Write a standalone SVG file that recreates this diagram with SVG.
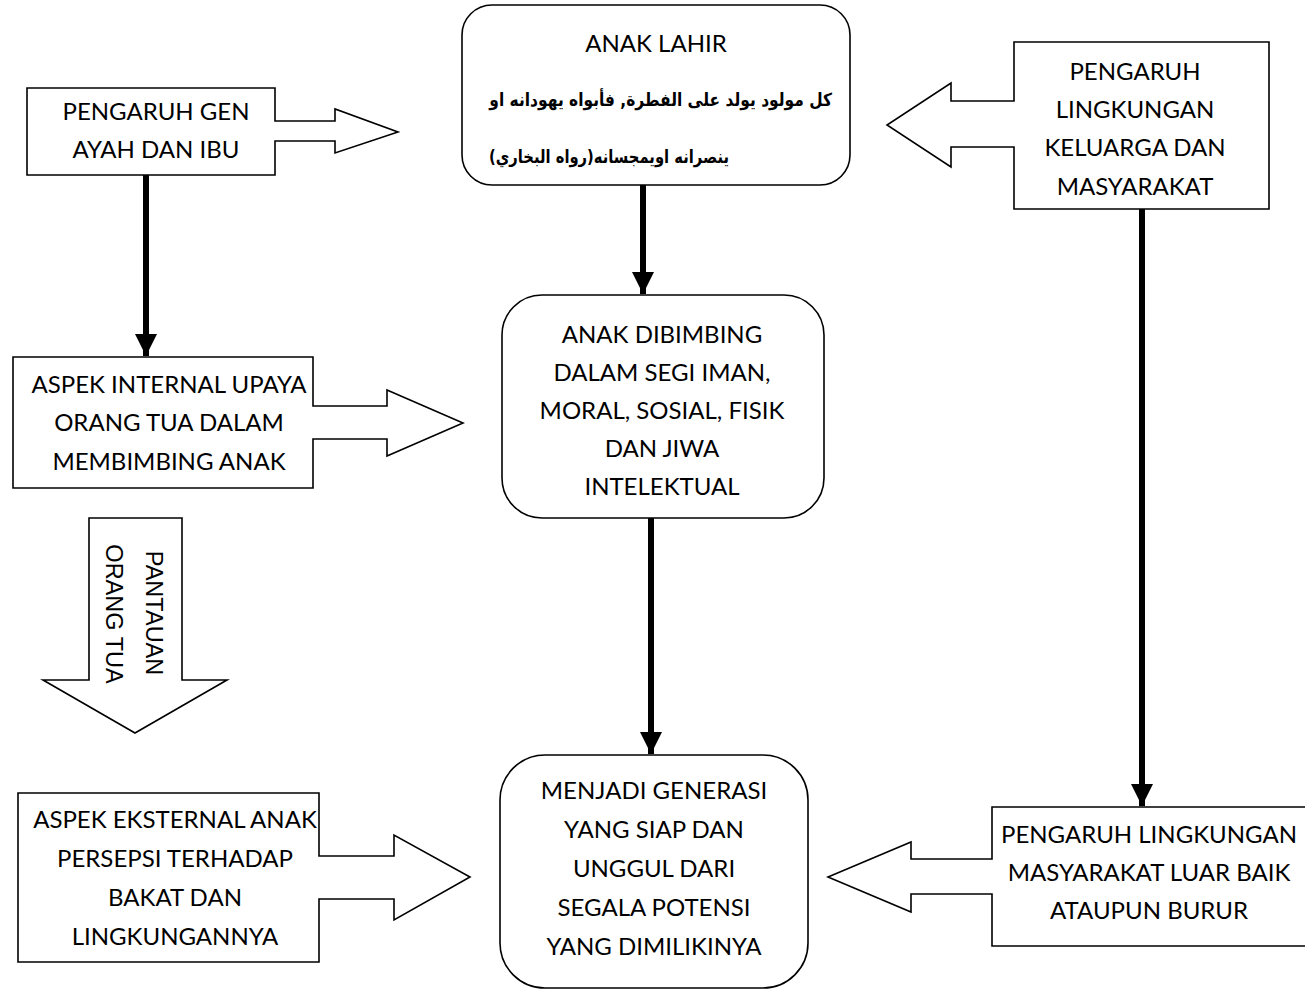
<svg xmlns="http://www.w3.org/2000/svg" width="1305" height="992" viewBox="0 0 1305 992">
<style>
.box{fill:#fff;stroke:#000;stroke-width:1.6;stroke-linejoin:miter}
.t{font-family:Lato,"Liberation Sans",sans-serif;font-size:24px;fill:#000;text-anchor:middle}
.v{font-family:"Liberation Sans",Arial,sans-serif;font-size:23.5px;fill:#000;text-anchor:middle}
.ar{font-family:"DejaVu Sans",sans-serif;font-size:18px;font-weight:bold;fill:#000}
.conn{stroke:#000;stroke-width:6;fill:none}
</style>
<defs>
<marker id="ah" markerUnits="userSpaceOnUse" markerWidth="24" markerHeight="24" viewBox="0 0 24 24" refX="22" refY="12" orient="auto">
<path d="M0,1 L22,12 L0,23 Z" fill="#000"/>
</marker>
</defs>
<rect width="1305" height="992" fill="#fff"/>

<g id="connectors">
<line class="conn" x1="146" y1="175" x2="146" y2="356" marker-end="url(#ah)"/>
<line class="conn" x1="643" y1="185" x2="643" y2="294" marker-end="url(#ah)"/>
<line class="conn" x1="651" y1="518" x2="651" y2="754" marker-end="url(#ah)"/>
<line class="conn" x1="1142" y1="209" x2="1142" y2="806" marker-end="url(#ah)"/>
</g>

<g id="anak-lahir">
<rect class="box" x="462" y="5" width="388" height="180" rx="30" ry="30"/>
<text class="t" x="656" y="52">ANAK LAHIR</text>
<text class="ar" transform="translate(832,106) scale(0.86,1)" direction="rtl" unicode-bidi="embed">كل مولود يولد على الفطرة, فأبواه يهودانه او</text>
<text class="ar" transform="translate(729,163) scale(0.82,1)" direction="rtl" unicode-bidi="embed">ينصرانه اويمجسانه(رواه البخاري)</text>
</g>

<g id="pengaruh-gen">
<path class="box" d="M27,88 H275 V121 H335 V109 L398,132 L335,153 V141 H275 V175 H27 Z"/>
<text class="t" x="156" y="120">PENGARUH GEN</text>
<text class="t" x="156" y="158">AYAH DAN IBU</text>
</g>

<g id="pengaruh-keluarga">
<path class="box" d="M1014,42 H1269 V209 H1014 V147 H951 V167 L887,125 L951,83 V101 H1014 Z"/>
<text class="t" x="1135" y="80">PENGARUH</text>
<text class="t" x="1135" y="118">LINGKUNGAN</text>
<text class="t" x="1135" y="156">KELUARGA DAN</text>
<text class="t" x="1135" y="195">MASYARAKAT</text>
</g>

<g id="aspek-internal">
<path class="box" d="M13,357 H313 V406 H387 V390 L463,423 L387,456 V439 H313 V488 H13 Z"/>
<text class="t" x="169" y="393">ASPEK INTERNAL UPAYA</text>
<text class="t" x="169" y="431">ORANG TUA DALAM</text>
<text class="t" x="169" y="470">MEMBIMBING ANAK</text>
</g>

<g id="anak-dibimbing">
<rect class="box" x="502" y="295" width="322" height="223" rx="40" ry="40"/>
<text class="t" x="662" y="343">ANAK DIBIMBING</text>
<text class="t" x="662" y="381">DALAM SEGI IMAN,</text>
<text class="t" x="662" y="419">MORAL, SOSIAL, FISIK</text>
<text class="t" x="662" y="457">DAN JIWA</text>
<text class="t" x="662" y="495">INTELEKTUAL</text>
</g>

<g id="pantauan">
<path class="box" d="M89,518 H182 V680 H227 L135,733 L43,680 H89 Z"/>
<text class="v" transform="translate(146,613) rotate(90)">PANTAUAN</text>
<text class="v" transform="translate(106,614) rotate(90)">ORANG TUA</text>
</g>

<g id="aspek-eksternal">
<path class="box" d="M18,793 H319 V856 H394 V835 L470,877 L394,920 V899 H319 V962 H18 Z"/>
<text class="t" x="175" y="828">ASPEK EKSTERNAL ANAK</text>
<text class="t" x="175" y="867">PERSEPSI TERHADAP</text>
<text class="t" x="175" y="906">BAKAT DAN</text>
<text class="t" x="175" y="945">LINGKUNGANNYA</text>
</g>

<g id="menjadi-generasi">
<rect class="box" x="500" y="755" width="308" height="233" rx="45" ry="45"/>
<text class="t" x="654" y="799">MENJADI GENERASI</text>
<text class="t" x="654" y="838">YANG SIAP DAN</text>
<text class="t" x="654" y="877">UNGGUL DARI</text>
<text class="t" x="654" y="916">SEGALA POTENSI</text>
<text class="t" x="654" y="955">YANG DIMILIKINYA</text>
</g>

<g id="pengaruh-masyarakat">
<path class="box" d="M992,807 H1308 V946 H992 V894 H911 V912 L828,877 L911,842 V859 H992 Z"/>
<text class="t" x="1149" y="843">PENGARUH LINGKUNGAN</text>
<text class="t" x="1149" y="881">MASYARAKAT LUAR BAIK</text>
<text class="t" x="1149" y="919">ATAUPUN BURUR</text>
</g>
</svg>
